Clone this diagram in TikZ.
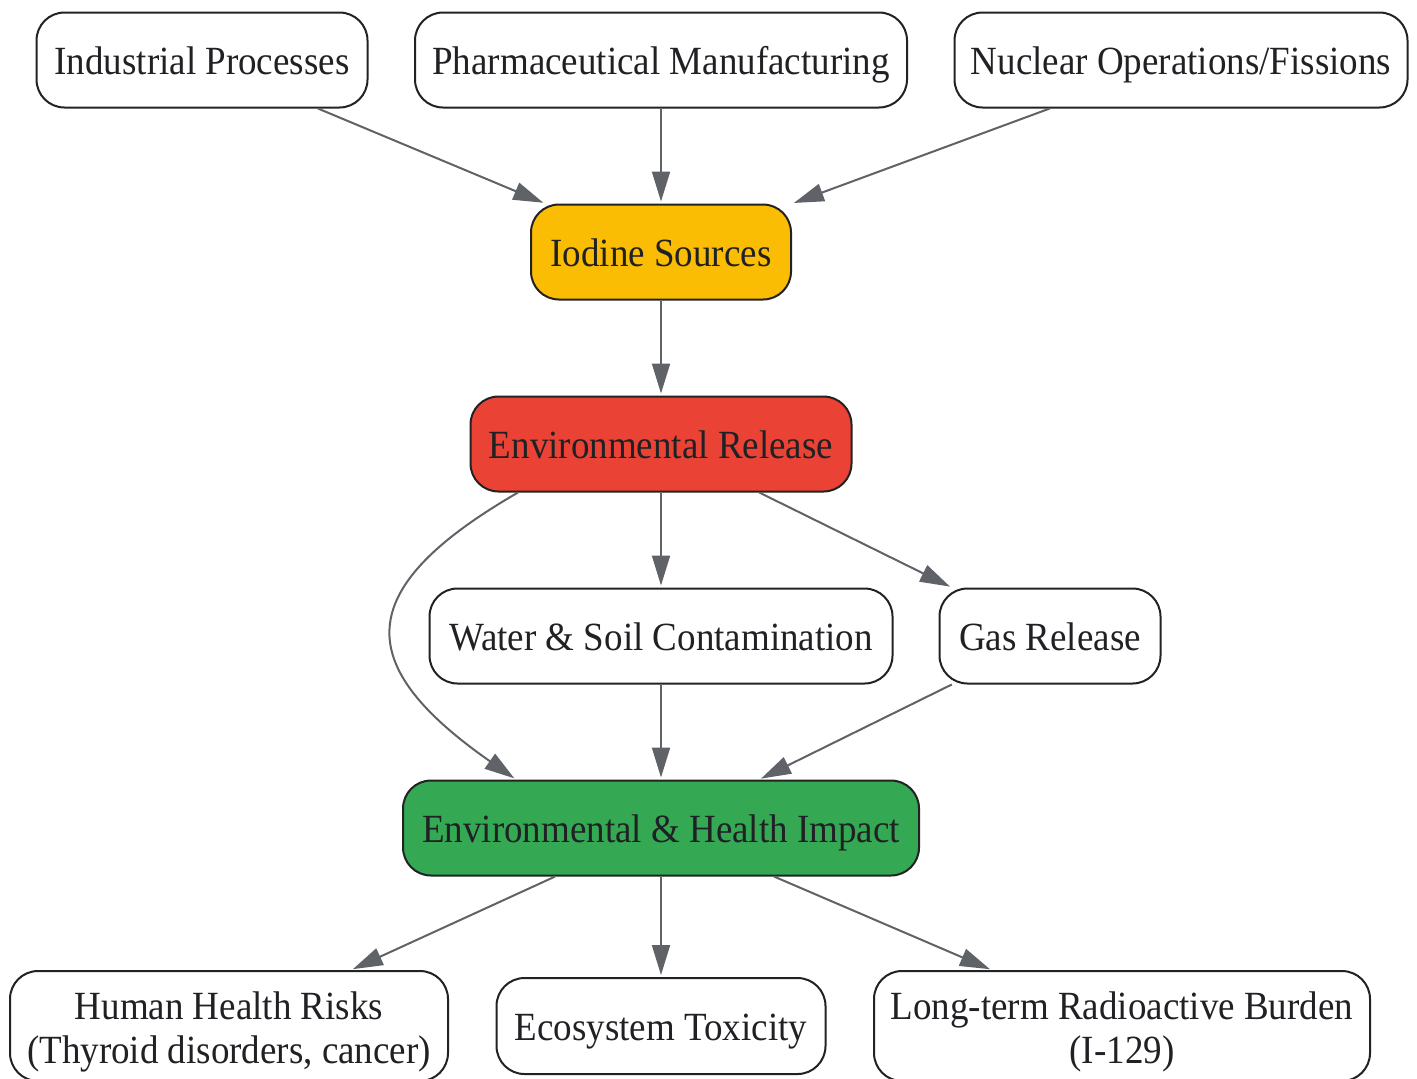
\documentclass[tikz,border=0pt]{standalone}
\usepackage{fontspec}
\setmainfont{Liberation Serif}[FakeStretch=0.925]
\usetikzlibrary{arrows.meta,positioning}
\definecolor{inktext}{HTML}{202124}
\definecolor{boxline}{HTML}{222222}
\definecolor{edgegray}{HTML}{5F6368}
\definecolor{srcyellow}{HTML}{FBBC04}
\definecolor{relred}{HTML}{EA4335}
\definecolor{impgreen}{HTML}{34A853}
\tikzset{node distance=96pt, % Centre-to-centre distance between two ranks
        stage/.style={ % Sets the properties for each box
            draw=boxline,
            line width=1pt,
            rounded corners=14pt,
            fill=white,
            text=inktext,
            inner sep=4pt,
            minimum height=47.5pt,
            text height=18pt, text depth=4pt, % Same baseline in every box
            align=center,
            font=\fontsize{20}{22}\selectfont},
        twoline/.style={ % Boxes with two lines of text
            text height=41pt, text depth=4pt,
            minimum height=55pt},
        link/.style={ % Sets the properties for each connector
            draw=edgegray,
            line width=1pt,
            -{Triangle[length=15pt,width=9pt]}, % Filled arrow heads
            shorten >=1pt}
        }
\begin{document}
\begin{tikzpicture}[x=0.5pt,y=-0.5pt]
    \useasboundingbox (0,0) rectangle (1417,1078);

    \node[stage,fill=srcyellow,minimum width=130pt]  (src)    at (661,252)          {Iodine Sources};
    \node[stage,minimum width=246pt]                 (pharm)  [above of=src]        {Pharmaceutical Manufacturing};
    \node[stage,minimum width=165.5pt]               (ind)    [left of=pharm, node distance=229.5pt] {Industrial Processes};
    \node[stage,minimum width=226.5pt]               (nuc)    [right of=pharm, node distance=260pt]  {Nuclear Operations/Fissions};
    \node[stage,fill=relred,minimum width=190.5pt]   (rel)    [below of=src]        {Environmental Release};
    \node[stage,minimum width=231.5pt]               (water)  [below of=rel]        {Water \& Soil Contamination};
    \node[stage,minimum width=110.5pt]               (gas)    [right of=water, node distance=194.5pt] {Gas Release};
    \node[stage,fill=impgreen,minimum width=258pt]   (imp)    [below of=water]      {Environmental \& Health Impact};
    \node[stage,minimum width=164.5pt,minimum height=48pt] (eco) [below of=imp, node distance=99pt] {Ecosystem Toxicity};
    \node[stage,twoline,minimum width=219pt]   (human)  [left of=eco, node distance=216pt]    {Human Health Risks\\(Thyroid disorders, cancer)};
    \node[stage,twoline,minimum width=248pt]   (burden) [right of=eco, node distance=230.5pt] {Long-term Radioactive Burden\\(I-129)};

    \draw[link] (ind)   -- (src);
    \draw[link] (pharm) -- (src);
    \draw[link] (nuc)   -- (src);
    \draw[link] (src)   -- (rel);
    \draw[link] (rel)   -- (water);
    \draw[link] (rel)   -- (gas);
    \draw[link] ([xshift=-71.5pt]rel.south) to[out=210,in=145,looseness=1.75] ([xshift=-72.5pt]imp.north);
    \draw[link] (water) -- (imp);
    \draw[link] (gas)   -- (imp);
    \draw[link] (imp)   -- (human);
    \draw[link] (imp)   -- (eco);
    \draw[link] (imp)   -- (burden);
\end{tikzpicture}
\end{document}
